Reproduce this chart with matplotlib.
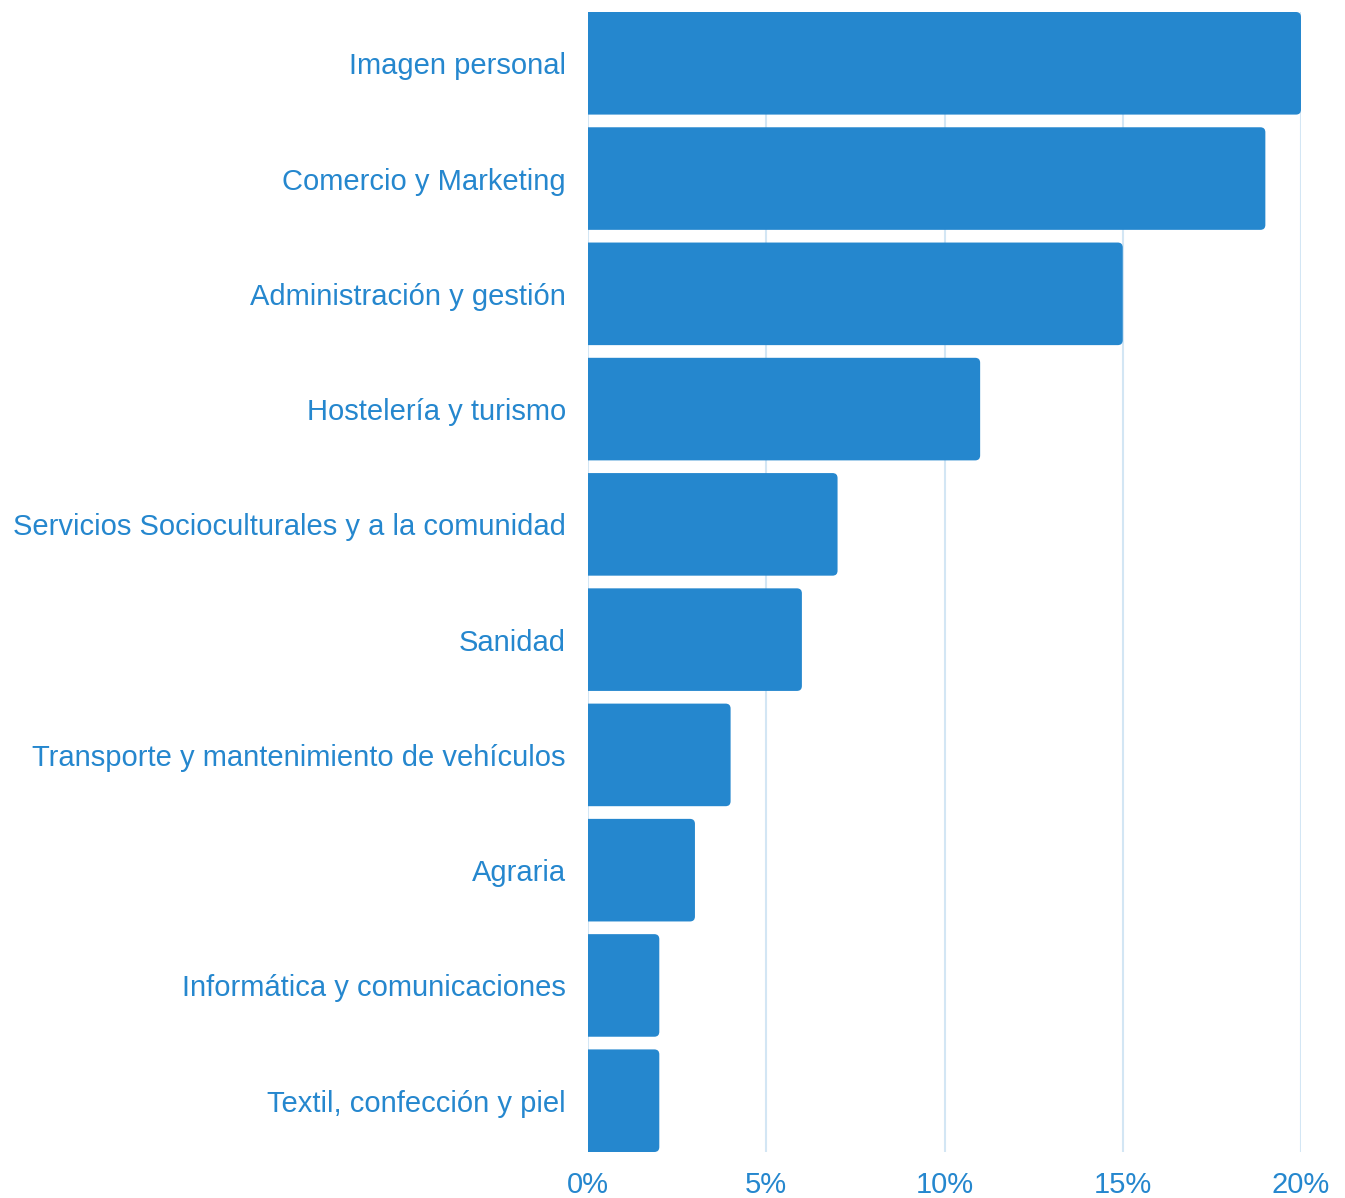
import matplotlib
matplotlib.use('Agg')
import matplotlib.pyplot as plt
from matplotlib.path import Path
from matplotlib.patches import PathPatch

categories = ['Imagen personal', 'Comercio y Marketing', 'Administración y gestión',
              'Hostelería y turismo', 'Servicios Socioculturales y a la comunidad',
              'Sanidad', 'Transporte y mantenimiento de vehículos', 'Agraria',
              'Informática y comunicaciones', 'Textil, confección y piel']
values = [20, 19, 15, 11, 7, 6, 4, 3, 2, 2]
ticks = [0, 5, 10, 15, 20]
tick_labels = ['0%', '5%', '10%', '15%', '20%']

blue = '#2587ce'
bar_h = 0.89
plt.rcParams['font.family'] = ['Liberation Sans', 'DejaVu Sans']

fig = plt.figure(figsize=(13.45, 11.98), dpi=100)
ax = fig.add_axes([588 / 1345, 1 - 1152 / 1198, (1301 - 588) / 1345, (1152 - 12) / 1198])

ypos = list(range(len(categories)))
bars = ax.barh(ypos, values, height=bar_h, color=blue)
ax.set_xlim(0, 20)
ax.set_ylim(len(categories) - 1 + bar_h / 2, -bar_h / 2)

# rounded right corners: ~5px radius converted to data units
fig.canvas.draw()
bbox = ax.get_window_extent()
rx = 5 * 20 / bbox.width
ry = 5 * (len(categories) - 1 + bar_h) / bbox.height
for b in bars:
    x0, y0 = b.get_x(), b.get_y()
    w, h = b.get_width(), b.get_height()
    x1, y1 = x0 + w, y0 + h
    verts = [(x0, y0), (x1 - rx, y0), (x1, y0), (x1, y0 + ry),
             (x1, y1 - ry), (x1, y1), (x1 - rx, y1), (x0, y1), (x0, y0)]
    codes = [Path.MOVETO, Path.LINETO, Path.CURVE3, Path.CURVE3,
             Path.LINETO, Path.CURVE3, Path.CURVE3, Path.LINETO, Path.CLOSEPOLY]
    b.set_visible(False)
    ax.add_patch(PathPatch(Path(verts, codes), facecolor=blue, edgecolor='none', zorder=2))

for t in ticks:
    ax.axvline(t, color='#d3e6f4', linewidth=1.5, zorder=1)

ax.set_yticks(ypos)
ax.set_yticklabels(categories, fontsize=21, color=blue)
ax.set_xticks(ticks)
ax.set_xticklabels(tick_labels, fontsize=21, color=blue)
ax.tick_params(axis='both', length=0)
ax.tick_params(axis='y', pad=16)
ax.tick_params(axis='x', pad=14)
for s in ax.spines.values():
    s.set_visible(False)

fig.savefig('out.png', dpi=100)
